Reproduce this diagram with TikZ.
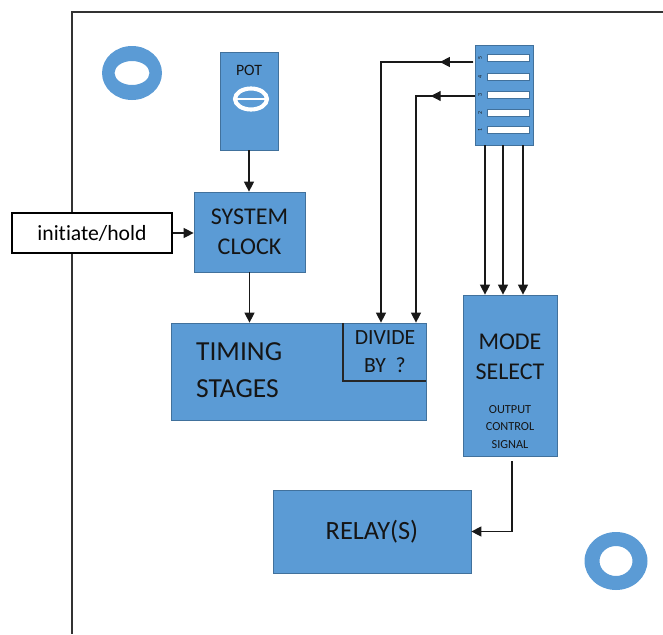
\documentclass[tikz,border=0pt]{standalone}
\usepackage{fontspec}
\setmainfont{Carlito}[Ligatures=NoCommon]
\usetikzlibrary{arrows.meta,calc,positioning}
\definecolor{boxblue}{HTML}{5B9BD5}
\definecolor{boxline}{HTML}{41719C}
\definecolor{txt}{HTML}{151515}

\tikzset{
  blk/.style={draw=boxline, fill=boxblue, line width=0.6pt, inner sep=0pt, text=txt, align=center},
  wire/.style={line width=1pt, draw=black!90},
  arr/.style={wire, -{Triangle[length=8.5pt,width=8.5pt]}},
  slot/.style={draw=boxline, fill=white, line width=0.4pt},
}

\begin{document}
\begin{tikzpicture}[x=0.03cm,y=-0.03cm]
\useasboundingbox (0,0) rectangle (663,634);

% Frame
\draw[line width=1pt, black!80] (663,12) -- (72,12) -- (72,634);

% Mounting holes
\fill[boxblue, even odd rule] (132,73) ellipse [x radius=30, y radius=27] (132,73) ellipse [x radius=17.5, y radius=12];
\fill[boxblue, even odd rule] (616,561) ellipse [x radius=31.5, y radius=29] (616,561) ellipse [x radius=16.5, y radius=15];

% Blocks
\node[blk, minimum width=1.74cm, minimum height=2.94cm] (pot) at (249,101) {};
\node[blk, minimum width=3.33cm, minimum height=2.4cm, font=\fontsize{20.5}{26}\selectfont] (clock) at (249.5,232) {SYSTEM\\CLOCK};
\node[draw=black, fill=white, line width=2pt, minimum width=4.8cm, minimum height=1.2cm, font=\fontsize{18.5}{22}\selectfont] (init) at (92,233) {initiate/hold};
\node[blk, minimum width=7.65cm, minimum height=2.91cm] (timing) at (298.5,371.5) {};
\node[blk, minimum width=1.74cm, minimum height=3cm] (dip) at (504,95) {};
\node[blk, minimum width=2.82cm, minimum height=4.83cm] (mode) at (510,375.5) {};
\node[blk, minimum width=5.94cm, minimum height=2.49cm, font=\fontsize{22.5}{27}\selectfont] (relay) at (372,531.5) {RELAY(S)};

% POT label and symbol
\node[text=txt, font=\fontsize{13.5}{16}\selectfont] (potlbl) at (249,70) {POT};
\draw[white, line width=3.5pt] (251,99) ellipse [x radius=16, y radius=10.5];
\draw[white, line width=1.5pt] (236,99) -- (266,99);

% Timing stages text and divider
\node[text=txt, align=left, anchor=west, font=\fontsize{23.5}{31}\selectfont] (timlbl) at (192,370) {TIMING\\STAGES};
\draw[line width=0.9pt, black!85] (343,323) |- (426,381);
\node[text=txt, align=center, font=\fontsize{18.5}{24}\selectfont] (divide) at (385,352) {DIVIDE\\BY\ \ ?};

% Mode select text
\node[text=txt, align=center, font=\fontsize{20.5}{26}\selectfont] (modelbl) at (510,357) {MODE\\SELECT};
\node[text=txt, align=center, font=\fontsize{10.5}{15}\selectfont] (outlbl) at (510,427) {OUTPUT\\CONTROL\\SIGNAL};

% DIP switch
\foreach \yy/\num in {58/5,77/4,95/3,113/2,130/1} {
  \draw[slot] (487,\yy-3.5) rectangle (529,\yy+3.5);
  \node[rotate=90, text=txt, inner sep=0pt, font=\fontsize{5}{5}\selectfont] at (480,\yy) {\num};
}

% Connections
\draw[arr] (pot.south) -- (pot.south |- clock.north);
\draw[arr] (init.east) -- (init.east -| clock.west);
\draw[arr] (clock.south) -- (clock.south |- timing.north);

\coordinate (s5) at (473,62);
\coordinate (k5) at (381,62);
\coordinate (s3) at (475,96);
\coordinate (k3) at (416,96);
\draw[arr] (s5) -- ($(s5)!0.36!(k5)$);
\draw[arr] (s5) -- (k5) -- (k5 |- timing.north);
\draw[arr] (s3) -- ($(s3)!0.75!(k3)$);
\draw[arr] (s3) -- (k3) -- (k3 |- timing.north);

\foreach \xx in {485,503,523} {
  \coordinate (m) at (\xx,0);
  \draw[arr] (m |- dip.south) -- (m |- mode.north);
}

\coordinate (o) at (512,461);
\draw[arr] (o) |- (relay.east);
\end{tikzpicture}
\end{document}
